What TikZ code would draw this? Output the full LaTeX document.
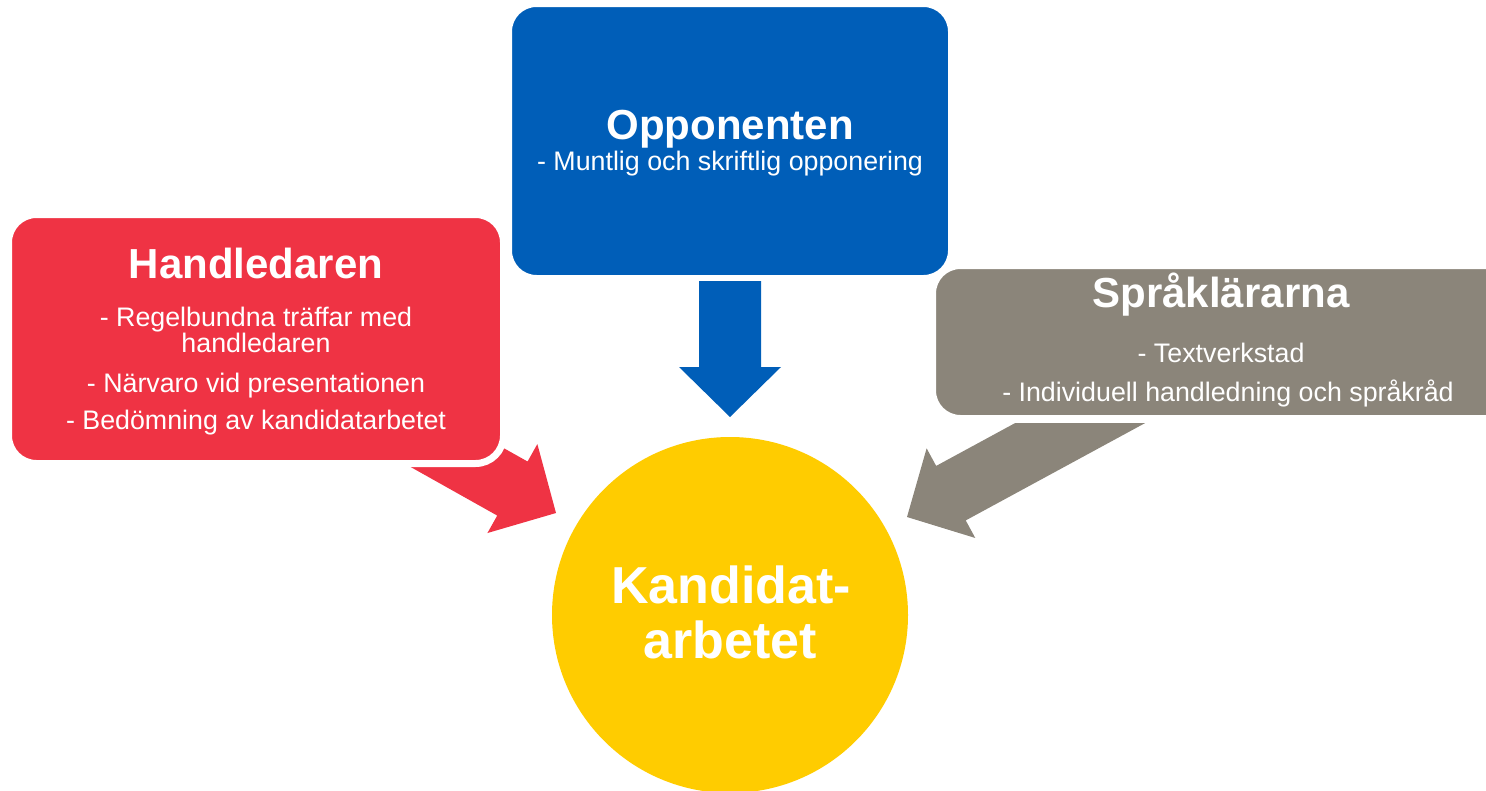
\documentclass[tikz,border=0pt]{standalone}
\usepackage{fontspec}
\setmainfont{Liberation Sans}
\usetikzlibrary{calc}
\definecolor{oppblue}{RGB}{0,94,184}
\definecolor{handred}{RGB}{239,51,68}
\definecolor{sprgray}{RGB}{139,133,122}
\definecolor{kandyellow}{RGB}{255,204,0}
\tikzset{
  box/.style={rectangle, rounded corners=28pt, draw=white, line width=7pt, inner sep=0pt, outer sep=0pt},
  titletext/.style={text=white, font=\fontsize{42}{50}\selectfont\bfseries, anchor=base, inner sep=0pt},
  bodytext/.style={text=white, font=\fontsize{26.8}{32}\selectfont, anchor=base, inner sep=0pt},
  circtext/.style={text=white, font=\fontsize{52}{60}\selectfont\bfseries, anchor=base, inner sep=0pt},
}
\newcommand\blockarr[3]{%
  \fill[#3] let \p1=($(#2)-(#1)$), \n1={atan2(\y1,\x1)}, \n2={veclen(\x1,\y1)} in
    [shift={(#2)}, rotate=\n1] (0,0) -- (-50,51) -- (-50,31) -- (-\n2,31) -- (-\n2,-31) -- (-50,-31) -- (-50,-51) -- cycle;}
\begin{document}
\begin{tikzpicture}[x=1pt,y=-1pt]
\useasboundingbox (0,0) rectangle (1486,790);
\clip (0,0) rectangle (1486,790);
% Opponenten box
\node[box, fill=oppblue, minimum width=443pt, minimum height=275pt] (opp) at (730,141) {};
% arrows
\coordinate (bluetail) at (730,281);
\coordinate (bluetip) at (730,417);
\blockarr{bluetail}{bluetip}{oppblue}
\coordinate (redtail) at (425,439.5);
\coordinate (redtip) at (556,513);
\blockarr{redtail}{redtip}{handred}
\coordinate (graytail) at (1170.7,373.9);
\coordinate (graytip) at (907,517);
\begin{scope}
  \clip (0,423) rectangle (1486,790);
  \blockarr{graytail}{graytip}{sprgray}
\end{scope}
% circle
\node[circle, fill=kandyellow, minimum size=356pt, inner sep=0pt] (kand) at (730,615) {};
% Handledaren box
\node[box, fill=handred, minimum width=495pt, minimum height=249pt] (hand) at (256,339) {};
% Språklärarna box
\node[box, fill=sprgray, minimum width=584.5pt, minimum height=153pt] (spr) at (1224.75,342) {};
% texts
\node[titletext] (oppt) at (730,139) {Opponenten};
\node[bodytext] (oppb) at (730,170.5) {- Muntlig och skriftlig opponering};
\node[titletext] (handt) at (256,278) {Handledaren};
\node[bodytext] (handb1) at (256,326) {- Regelbundna träffar med};
\node[bodytext] (handb2) at (256,352.5) {handledaren};
\node[bodytext] (handb3) at (256,392) {- Närvaro vid presentationen};
\node[bodytext] (handb4) at (256,429) {- Bedömning av kandidatarbetet};
\node[titletext] (sprt) at (1221,307) {Språklärarna};
\node[bodytext] (sprb1) at (1221,362) {- Textverkstad};
\node[bodytext] (sprb2) at (1228,401) {- Individuell handledning och språkråd};
\node[circtext] (kandt1) at (731,603) {Kandidat-};
\node[circtext] (kandt2) at (730,658) {arbetet};
\end{tikzpicture}
\end{document}
